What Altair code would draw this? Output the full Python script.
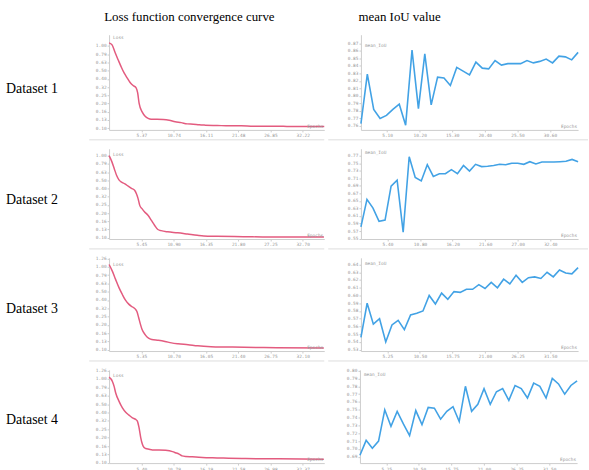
import altair as alt
import pandas as pd

# ---------------- data ----------------
col_titles = ["Loss function convergence curve", "mean IoU value"]
row_labels = ["Dataset 1", "Dataset 2", "Dataset 3", "Dataset 4"]

loss1_x = [0, 0.5, 1, 1.5, 2, 2.5, 3, 3.5, 4, 4.5, 4.75, 5, 5.5, 6, 6.5, 7, 8, 9, 10, 11, 12,
           13, 14, 15, 16, 18, 20, 22, 24, 26, 28, 30, 32, 34, 35.8]
loss1_y = [1.09, 1.03, 0.83, 0.68, 0.56, 0.47, 0.41, 0.36, 0.33, 0.31, 0.27, 0.20, 0.158, 0.14,
           0.132, 0.129, 0.129, 0.128, 0.125, 0.12, 0.117, 0.113, 0.112, 0.110, 0.109, 0.108,
           0.107, 0.107, 0.106, 0.106, 0.106, 0.105, 0.105, 0.105, 0.105]

loss2_x = [0, 0.45, 0.89, 1.28, 1.67, 2.11, 2.67, 3.23, 3.78, 4.34, 4.62, 4.9, 5.18, 5.56, 6.01,
           6.57, 7.12, 7.68, 8.24, 8.79, 9.91, 11.57, 13.24, 14.9, 16.0, 18.25, 22.7, 27, 32, 36.3]
loss2_y = [1.00, 0.853, 0.69, 0.573, 0.508, 0.476, 0.454, 0.425, 0.40, 0.377, 0.344, 0.30, 0.248,
           0.226, 0.206, 0.188, 0.164, 0.142, 0.126, 0.122, 0.118, 0.115, 0.111, 0.107, 0.105,
           0.104, 0.103, 0.102, 0.102, 0.102]

loss3_x = [0, 0.54, 1.08, 1.64, 2.18, 2.72, 3.26, 3.82, 4.36, 4.63, 4.9, 5.18, 5.44, 6.0, 6.54,
           7.08, 8.17, 9.27, 10.35, 11.44, 13.1, 14.7, 16.9, 19.6, 22.4, 27.8, 35.6]
loss3_y = [1.067, 0.888, 0.706, 0.561, 0.467, 0.396, 0.355, 0.33, 0.309, 0.287, 0.245, 0.205,
           0.178, 0.151, 0.138, 0.133, 0.130, 0.126, 0.121, 0.118, 0.115, 0.1115, 0.109, 0.108,
           0.107, 0.106, 0.105]

loss4_x = [0, 0.56, 0.84, 1.11, 1.67, 2.23, 2.78, 3.34, 3.9, 4.45, 4.73, 5.01, 5.29, 5.57, 5.85,
           6.12, 6.68, 7.24, 8.35, 9.46, 10.6, 11.1, 11.7, 12.2, 12.8, 13.9, 15, 17.3, 20, 22.8,
           28.4, 35.9]
loss4_y = [1.05, 0.933, 0.815, 0.679, 0.541, 0.452, 0.401, 0.37, 0.344, 0.329, 0.314, 0.262,
           0.20, 0.166, 0.152, 0.148, 0.145, 0.1425, 0.1425, 0.141, 0.136, 0.132, 0.127, 0.121,
           0.119, 0.118, 0.1167, 0.1146, 0.1135, 0.1124, 0.1114, 0.1104]

iou1_x = list(range(1, 36))
iou1_y = [0.763, 0.829, 0.782, 0.770, 0.774, 0.782, 0.789, 0.761, 0.861, 0.783, 0.856, 0.788,
          0.825, 0.824, 0.814, 0.838, 0.833, 0.828, 0.845, 0.837, 0.836, 0.847, 0.841, 0.843,
          0.843, 0.843, 0.847, 0.844, 0.846, 0.849, 0.844, 0.853, 0.852, 0.848, 0.858]

iou2_x = list(range(1, 38))
iou2_y = [0.581, 0.654, 0.631, 0.596, 0.599, 0.689, 0.705, 0.567, 0.767, 0.712, 0.703, 0.746,
          0.715, 0.722, 0.722, 0.733, 0.722, 0.744, 0.729, 0.747, 0.741, 0.742, 0.744, 0.747,
          0.746, 0.750, 0.750, 0.747, 0.754, 0.748, 0.753, 0.753, 0.753, 0.754, 0.755, 0.760,
          0.754]

iou3_x = list(range(1, 37))
iou3_y = [0.546, 0.590, 0.563, 0.570, 0.540, 0.562, 0.568, 0.556, 0.575, 0.577, 0.580, 0.600,
          0.589, 0.603, 0.595, 0.605, 0.604, 0.608, 0.608, 0.614, 0.609, 0.617, 0.610, 0.621,
          0.615, 0.626, 0.617, 0.623, 0.624, 0.622, 0.630, 0.624, 0.633, 0.629, 0.628, 0.636]

iou4_x = list(range(1, 37))
iou4_y = [0.692, 0.711, 0.701, 0.710, 0.750, 0.729, 0.748, 0.732, 0.717, 0.749, 0.731, 0.753,
          0.752, 0.738, 0.748, 0.754, 0.735, 0.780, 0.748, 0.757, 0.777, 0.757, 0.773, 0.777,
          0.762, 0.781, 0.777, 0.765, 0.784, 0.780, 0.765, 0.790, 0.783, 0.770, 0.781, 0.787]

# tick values
loss_yticks_a = [1.0, 0.794, 0.631, 0.501, 0.398, 0.316, 0.251, 0.2, 0.158, 0.126, 0.1]
loss_yticks_b = [1.259, 1.0, 0.794, 0.631, 0.501, 0.398, 0.316, 0.251, 0.2, 0.158, 0.126, 0.1]
loss_xticks = [
    [5.37, 10.74, 16.11, 21.48, 26.85, 32.22],
    [5.45, 10.90, 16.35, 21.80, 27.25, 32.70],
    [5.35, 10.70, 16.05, 21.40, 26.75, 32.10],
    [5.40, 10.79, 16.19, 21.58, 26.98, 32.37],
]
iou_xticks = [
    [5.10, 10.20, 15.30, 20.40, 25.50, 30.60],
    [5.40, 10.80, 16.20, 21.60, 27.00, 32.40],
    [5.25, 10.50, 15.75, 21.00, 26.25, 31.50],
    [5.25, 10.50, 15.75, 21.00, 26.25, 31.50],
]
iou_yticks = [
    [0.76, 0.77, 0.78, 0.79, 0.80, 0.81, 0.82, 0.83, 0.84, 0.85, 0.86, 0.87],
    [0.55, 0.57, 0.59, 0.61, 0.63, 0.65, 0.67, 0.69, 0.71, 0.73, 0.75, 0.77],
    [0.53, 0.54, 0.55, 0.56, 0.57, 0.58, 0.59, 0.60, 0.61, 0.62, 0.63, 0.64],
    [0.69, 0.70, 0.71, 0.72, 0.73, 0.74, 0.75, 0.76, 0.77, 0.78, 0.79, 0.80],
]

# scale domains
loss_xdom = [[0, 35.8], [0, 36.35], [0, 35.67], [0, 35.97]]
loss_ydom = [[0.0954, 1.368], [0.0965, 1.215], [0.0965, 1.283], [0.0992, 1.283]]
iou_xdom = [[1, 35], [1, 37], [1, 36], [1, 36]]
iou_ydom = [[0.7547, 0.8815], [0.549, 0.7883], [0.5283, 0.6486], [0.682, 0.8009]]

# ---------------- layout / style ----------------
SERIF = "Liberation Serif"
MONO = "DejaVu Sans Mono"
GRAY = "#999999"
AXC = "#cccccc"
LOSS_C = "#e35b7f"
IOU_C = "#42a2e5"

W_LABEL, W_LOSS, W_IOU = 80, 217, 219
EXT_LOSS_Y, EXT_IOU_Y = 30, 33
ROW_H = [96, 91, 94, 94]
X_EXT = [19, 16, 16, 11]
LABEL_Y = [55, 52, 52, 51]
LOSS_NAME_Y = [0, 3, 4, 3]
IOU_NAME_Y = [8, 1, 3, 2]


def panel(xs, ys, xdom, ydom, xticks, yticks, log, color, interp, series_name,
          w, h, xext, yext, name_y, sep, sep_left, sep_right, sw):
    df = pd.DataFrame({"x": xs, "y": ys})
    if log:
        ysc = alt.Scale(type="log", domain=ydom, nice=False)
    else:
        ysc = alt.Scale(domain=ydom, nice=False, zero=False)
    line = alt.Chart(df).mark_line(color=color, strokeWidth=sw, interpolate=interp).encode(
        x=alt.X("x:Q", scale=alt.Scale(domain=xdom, nice=False, zero=False),
                axis=alt.Axis(values=xticks, format=".2f", title=None,
                              minExtent=xext, maxExtent=xext)),
        y=alt.Y("y:Q", scale=ysc,
                axis=alt.Axis(values=yticks, format=".2f", title=None,
                              minExtent=yext, maxExtent=yext)),
    )
    name = alt.Chart(pd.DataFrame({"t": [series_name]})).mark_text(
        font=MONO, fontSize=4.5, color=GRAY, align="left", baseline="top"
    ).encode(x=alt.value(4), y=alt.value(name_y), text="t:N")
    ep = alt.Chart(pd.DataFrame({"t": ["Epochs"]})).mark_text(
        font=MONO, fontSize=4.5, color=GRAY, align="right", baseline="bottom"
    ).encode(x=alt.value(w - 1), y=alt.value(h - 1), text="t:N")
    layers = [line, name, ep]
    if sep:
        rule = alt.Chart(pd.DataFrame({"t": [0]})).mark_rule(color="#dddddd", strokeWidth=1).encode(
            x=alt.value(sep_left), x2=alt.value(sep_right), y=alt.value(h + 10))
        layers.append(rule)
    return alt.layer(*layers).properties(width=w, height=h)


loss_x = [loss1_x, loss2_x, loss3_x, loss4_x]
loss_y = [loss1_y, loss2_y, loss3_y, loss4_y]
iou_x = [iou1_x, iou2_x, iou3_x, iou4_x]
iou_y = [iou1_y, iou2_y, iou3_y, iou4_y]

header = alt.layer(
    alt.Chart(pd.DataFrame({"t": [col_titles[0]]})).mark_text(
        font=SERIF, fontSize=13, color="black", baseline="middle"
    ).encode(x=alt.value(191), y=alt.value(15), text="t:N"),
    alt.Chart(pd.DataFrame({"t": [col_titles[1]]})).mark_text(
        font=SERIF, fontSize=13, color="black", baseline="middle"
    ).encode(x=alt.value(403), y=alt.value(15), text="t:N"),
).properties(width=589, height=33)

rows = []
for i in range(4):
    h = ROW_H[i]
    sep = i < 3
    lab = alt.Chart(pd.DataFrame({"t": [row_labels[i]]})).mark_text(
        font=SERIF, fontSize=14, color="black", align="left", baseline="middle"
    ).encode(x=alt.value(6), y=alt.value(LABEL_Y[i]), text="t:N").properties(width=W_LABEL, height=h)
    lp = panel(loss_x[i], loss_y[i], loss_xdom[i], loss_ydom[i], loss_xticks[i],
               loss_yticks_a if i < 2 else loss_yticks_b, True, LOSS_C, "monotone", "Loss",
               W_LOSS, h, X_EXT[i], EXT_LOSS_Y, LOSS_NAME_Y[i], sep, -20, W_LOSS, 1.5)
    ip = panel(iou_x[i], iou_y[i], iou_xdom[i], iou_ydom[i], iou_xticks[i], iou_yticks[i],
               False, IOU_C, "linear", "mean_IoU",
               W_IOU, h, X_EXT[i], EXT_IOU_Y, IOU_NAME_Y[i], sep, -33, W_IOU + 10, 1.6)
    rows.append(alt.hconcat(lab, lp, ip, spacing=0))

chart = alt.vconcat(header, *rows, spacing=0).properties(
    padding={"left": 0, "top": 0, "right": 0, "bottom": 0}
).configure_view(strokeWidth=0).configure_axis(
    labelFont=MONO, labelFontSize=4.5, labelColor=GRAY, domainColor=AXC, tickColor=AXC,
    tickSize=2, labelPadding=1, grid=False
)

chart.save("out.html", embed_options={"renderer": "svg", "actions": False})
